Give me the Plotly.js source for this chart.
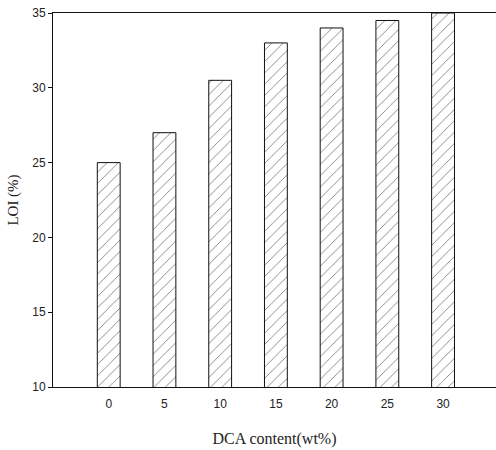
<!DOCTYPE html>
<html>
<head>
<meta charset="utf-8">
<script src="https://cdn.plot.ly/plotly-3.0.1.min.js"></script>
<style>html,body{margin:0;padding:0;background:#fff;}#chart{width:496px;height:450px;}</style>
</head>
<body>
<div id="chart"></div>
<script>
const categories = ["0", "5", "10", "15", "20", "25", "30"];
const loiValues = [25, 27, 30.5, 33, 34, 34.5, 35];
const yTicks = [10, 15, 20, 25, 30, 35];

const trace = {
  type: "bar",
  x: categories,
  y: loiValues,
  width: 0.41,
  marker: {
    color: "#ffffff",
    line: { color: "#111111", width: 1 },
    pattern: { shape: "/", fgcolor: "#000000", bgcolor: "#ffffff", size: 8, solidity: 0.11, fillmode: "overlay" }
  },
  hoverinfo: "none"
};

const layout = {
  width: 496,
  height: 450,
  margin: { l: 53, r: 0, t: 13, b: 63 },
  paper_bgcolor: "#ffffff",
  plot_bgcolor: "#ffffff",
  showlegend: false,
  xaxis: {
    type: "category",
    range: [-1, 6.95],
    showline: true,
    linecolor: "#111111",
    linewidth: 1,
    mirror: true,
    ticks: "",
    ticklabelstandoff: 6,
    showgrid: false,
    zeroline: false,
    tickfont: { family: "Liberation Sans, Arial, sans-serif", size: 12, color: "#222" },
    title: { text: "DCA content(wt%)", font: { family: "Liberation Serif, Times New Roman, serif", size: 16, color: "#222" }, standoff: 22 }
  },
  yaxis: {
    range: [10, 35],
    tickvals: yTicks,
    showline: true,
    linecolor: "#111111",
    linewidth: 1,
    ticks: "outside",
    ticklen: 4,
    tickcolor: "#111",
    showgrid: false,
    zeroline: false,
    tickfont: { family: "Liberation Sans, Arial, sans-serif", size: 12, color: "#222" },
    title: { text: "LOI (%)", font: { family: "Liberation Serif, Times New Roman, serif", size: 15, color: "#222" }, standoff: 9 }
  }
};

Plotly.newPlot("chart", [trace], layout, { staticPlot: true, displayModeBar: false });
</script>
</body>
</html>
